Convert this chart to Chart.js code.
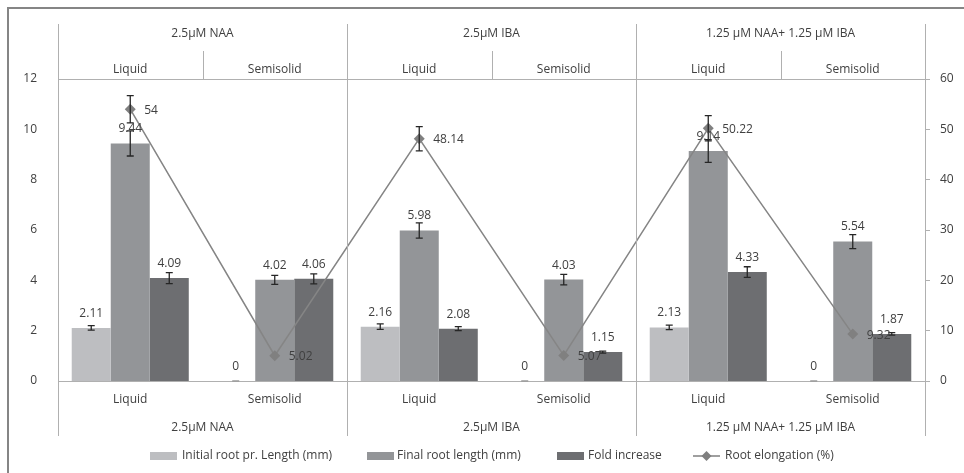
<!DOCTYPE html>
<html>
<head>
<meta charset="utf-8">
<script src="https://cdn.jsdelivr.net/npm/chart.js@4.4.0/dist/chart.umd.min.js"></script>
<style>
  body { margin: 0; background: #fff; }
  #wrap { width: 964px; height: 473px; position: relative; }
</style>
</head>
<body>
<div id="wrap"><canvas id="rootChart"></canvas></div>
<script>
// data
var categories = ['Liquid', 'Semisolid', 'Liquid', 'Semisolid', 'Liquid', 'Semisolid'];
var groups = ['2.5µM NAA', '2.5µM IBA', '1.25 µM NAA+ 1.25 µM IBA'];

var initialRoot = [2.11, 0, 2.16, 0, 2.13, 0];
var initialErr = [0.09, 0, 0.11, 0, 0.09, 0];
var finalRoot = [9.44, 4.02, 5.98, 4.03, 9.14, 5.54];
var finalErr = [0.5, 0.18, 0.3, 0.21, 0.45, 0.28];
var foldIncrease = [4.09, 4.06, 2.08, 1.15, 4.33, 1.87];
var foldErr = [0.22, 0.2, 0.08, 0.04, 0.21, 0.05];
var rootElongation = [54, 5.02, 48.14, 5.07, 50.22, 9.32];
var elongErr = [2.7, 0, 2.4, 0, 2.5, 0];

var txt = '#404040';
var lineGray = '#b0b0b0';
var font = '12px "Open Sans"';

// frame, header boxes, bottom category boxes, error bars, value labels, legend
var decorations = {
    id: 'decorations',
    beforeDraw: function(chart) {
        var c = chart.ctx;
        c.save();
        c.strokeStyle = '#858585';
        c.lineWidth = 2;
        c.beginPath();
        c.moveTo(8, 473); c.lineTo(8, 8); c.lineTo(964, 8);
        c.stroke();
        c.restore();
    },
    afterDatasetsDraw: function(chart) {
        var c = chart.ctx;
        var a = chart.chartArea;
        var x = chart.scales.x;
        var y = chart.scales.y;
        var y1 = chart.scales.y1;
        var step = (a.right - a.left) / categories.length;

        c.save();
        c.strokeStyle = lineGray;
        c.lineWidth = 1;
        c.beginPath();
        // horizontal lines at top and zero
        c.moveTo(a.left, a.top + 0.5); c.lineTo(a.right + 5, a.top + 0.5);
        c.moveTo(a.left, a.bottom + 0.5); c.lineTo(a.right + 5, a.bottom + 0.5);
        // group boundaries
        for (var g = 0; g <= groups.length; g++) {
            var gx = Math.round(a.left + g * step * 2) + 0.5;
            c.moveTo(gx, 24); c.lineTo(gx, 436);
        }
        // sub dividers in header
        for (var s = 0; s < groups.length; s++) {
            var sx = Math.round(a.left + (s * 2 + 1) * step) + 0.5;
            c.moveTo(sx, 51); c.lineTo(sx, a.top);
        }
        c.stroke();

        // texts of header / bottom
        c.fillStyle = txt;
        c.font = font;
        c.textAlign = 'center';
        c.textBaseline = 'middle';
        groups.forEach(function(gname, g) {
            var cx = a.left + (g * 2 + 1) * step;
            c.fillText(gname, cx, 34);
            c.fillText(gname, cx, 428);
        });
        categories.forEach(function(cat, i) {
            var cx = x.getPixelForValue(i);
            c.fillText(cat, cx, 70);
            c.fillText(cat, cx, 400);
        });

        // error bars
        var errs = [initialErr, finalErr, foldErr, elongErr];
        chart.data.datasets.forEach(function(ds, di) {
            var meta = chart.getDatasetMeta(di);
            var sc = ds.yAxisID === 'y1' ? y1 : y;
            meta.data.forEach(function(el, i) {
                var v = ds.data[i], e = errs[di][i];
                if (di === 3 && e === 0) return;
                var top = sc.getPixelForValue(v + e);
                var bot = sc.getPixelForValue(Math.max(0, v - e));
                c.strokeStyle = v === 0 ? '#9a9a9a' : '#262626';
                c.lineWidth = 1.3;
                c.beginPath();
                c.moveTo(el.x, top); c.lineTo(el.x, bot);
                c.moveTo(el.x - 3.5, top); c.lineTo(el.x + 3.5, top);
                c.moveTo(el.x - 3.5, bot); c.lineTo(el.x + 3.5, bot);
                c.stroke();
            });
        });

        // value labels
        c.fillStyle = txt;
        c.font = font;
        chart.data.datasets.forEach(function(ds, di) {
            var meta = chart.getDatasetMeta(di);
            meta.data.forEach(function(el, i) {
                if (di === 3) {
                    c.textAlign = 'left';
                    c.fillText(String(ds.data[i]), el.x + 14, el.y + 1);
                } else {
                    c.textAlign = 'center';
                    c.fillText(String(ds.data[i]), el.x, el.y - 14.5);
                }
            });
        });

        // legend
        var ly = 456;
        var items = [
            { x: 150, tx: 182, color: chart.data.datasets[0].backgroundColor },
            { x: 367, tx: 397, color: chart.data.datasets[1].backgroundColor },
            { x: 557, tx: 588, color: chart.data.datasets[2].backgroundColor }
        ];
        c.textAlign = 'left';
        items.forEach(function(it, k) {
            c.fillStyle = it.color;
            c.fillRect(it.x, ly - 4, 27, 8);
            c.fillStyle = txt;
            c.fillText(chart.data.datasets[k].label, it.tx, ly);
        });
        c.strokeStyle = '#7f7f7f';
        c.lineWidth = 1.5;
        c.beginPath(); c.moveTo(693, ly); c.lineTo(720, ly); c.stroke();
        c.fillStyle = '#7f7f7f';
        c.beginPath();
        c.moveTo(706.5, ly - 5); c.lineTo(711.5, ly); c.lineTo(706.5, ly + 5); c.lineTo(701.5, ly);
        c.closePath(); c.fill();
        c.fillStyle = txt;
        c.fillText(chart.data.datasets[3].label, 725, ly);
        c.restore();
    }
};

var ctx = document.getElementById('rootChart').getContext('2d');
var rootChart = new Chart(ctx, {
    type: 'bar',
    data: {
        labels: categories,
        datasets: [{
            label: 'Initial root pr. Length (mm)',
            data: initialRoot,
            backgroundColor: '#bdbec1',
            order: 1
        }, {
            label: 'Final root length (mm)',
            data: finalRoot,
            backgroundColor: '#939598',
            order: 1
        }, {
            label: 'Fold increase',
            data: foldIncrease,
            backgroundColor: '#6d6e71',
            order: 1
        }, {
            type: 'line',
            label: 'Root elongation (%)',
            data: rootElongation,
            yAxisID: 'y1',
            borderColor: '#858585',
            borderWidth: 1.5,
            backgroundColor: '#808080',
            pointStyle: 'rectRot',
            pointRadius: 5.5,
            pointBorderWidth: 0,
            tension: 0,
            order: 0
        }]
    },
    options: {
        responsive: true,
        maintainAspectRatio: false,
        animation: false,
        layout: { padding: { left: 18, right: 0, top: 79, bottom: 92 } },
        datasets: {
            bar: { categoryPercentage: 0.81, barPercentage: 1.0 }
        },
        scales: {
            x: { display: false },
            y: {
                position: 'left',
                min: 0, max: 12,
                ticks: { stepSize: 2, color: txt, font: { family: 'Open Sans', size: 12 }, padding: 13 },
                grid: { display: false },
                border: { display: false },
                afterFit: function(s) { s.width = 40; }
            },
            y1: {
                position: 'right',
                min: 0, max: 60,
                ticks: { stepSize: 10, color: txt, font: { family: 'Open Sans', size: 12 }, padding: 10 },
                grid: { drawOnChartArea: false, drawTicks: true, tickLength: 5, color: lineGray },
                border: { display: false },
                afterFit: function(s) { s.width = 39; }
            }
        },
        plugins: {
            legend: { display: false },
            tooltip: { enabled: false }
        }
    },
    plugins: [decorations]
});
</script>
</body>
</html>
